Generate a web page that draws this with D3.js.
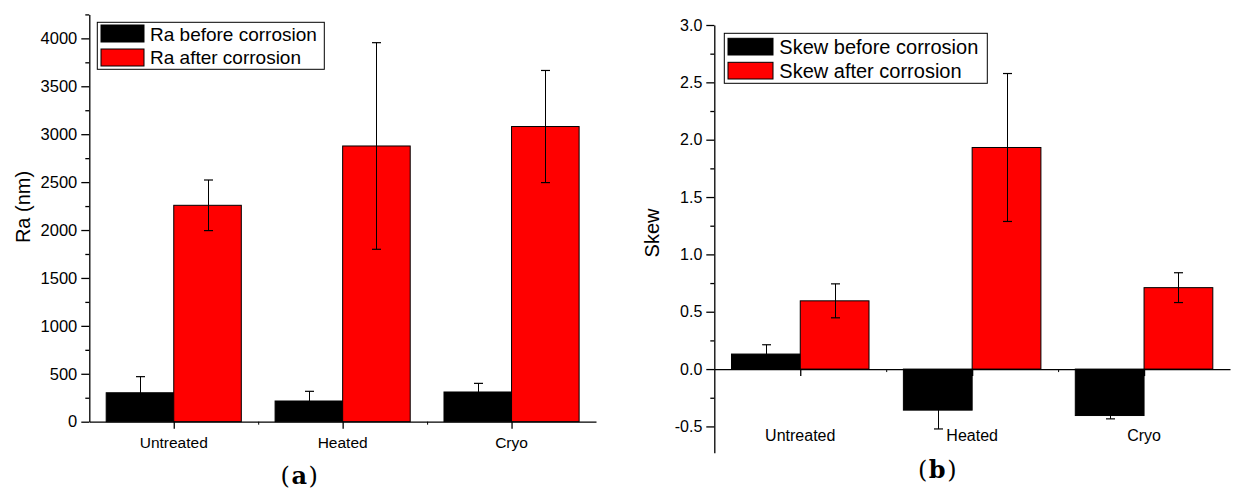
<!DOCTYPE html>
<html><head><meta charset="utf-8">
<script src="https://cdn.jsdelivr.net/npm/d3@7"></script>
<style>
html,body{margin:0;padding:0;background:#fff;}
svg{display:block;font-family:"Liberation Sans",Arial,sans-serif;}
</style></head>
<body>
<svg id="chart" width="1244" height="490"></svg>
<script>
const categories = ["Untreated", "Heated", "Cryo"];
const raBefore = [302, 216, 310];
const raBeforeErr = [168, 101, 90];
const raAfter = [2258, 2877, 3080];
const raAfterErr = [264, 1078, 585];
const skewBefore = [0.131, -0.358, -0.405];
const skewBeforeErr = [0.081, 0.164, 0.029];
const skewAfter = [0.595, 1.932, 0.71];
const skewAfterErr = [0.148, 0.645, 0.13];
const raTicks = [0, 500, 1000, 1500, 2000, 2500, 3000, 3500, 4000];
const raMinor = [250, 750, 1250, 1750, 2250, 2750, 3250, 3750, 4250];
const skewTicks = [-0.5, 0.0, 0.5, 1.0, 1.5, 2.0, 2.5, 3.0];
const skewMinor = [-0.25, 0.25, 0.75, 1.25, 1.75, 2.25, 2.75];
const legendA = ["Ra before corrosion", "Ra after corrosion"];
const legendB = ["Skew before corrosion", "Skew after corrosion"];

const svg = d3.select("#chart");

function panel(cfg) {
  const g = svg.append("g");
  const x = d3.scaleLinear().domain([0.5, 3.5]).range(cfg.xRange);
  const y = d3.scaleLinear().domain(cfg.yDomain).range(cfg.yRange);
  const bw = 0.4;
  const colors = ["#000000", "#ff0000"];
  const series = [cfg.before, cfg.after];
  const errs = [cfg.beforeErr, cfg.afterErr];

  // bars
  series.forEach((vals, s) => {
    g.selectAll(null).data(vals).enter().append("rect")
      .attr("x", (d, i) => s === 0 ? x(i + 1 - bw) : x(i + 1))
      .attr("width", x(1 + bw) - x(1))
      .attr("y", d => Math.min(y(d), y(0)))
      .attr("height", d => Math.abs(y(d) - y(0)))
      .attr("fill", colors[s])
      .attr("stroke", "#000").attr("stroke-width", 1);
  });
  // error bars
  series.forEach((vals, s) => {
    vals.forEach((v, i) => {
      const cx = Math.round(s === 0 ? x(i + 1 - bw / 2) : x(i + 1 + bw / 2)) + 0.5;
      const e = errs[s][i];
      const y1 = y(v - e), y2 = y(v + e);
      g.append("line").attr("x1", cx).attr("x2", cx).attr("y1", y1).attr("y2", y2)
        .attr("stroke", "#000").attr("stroke-width", 1);
      [y1, y2].forEach(yy => g.append("line")
        .attr("x1", cx - 4.5).attr("x2", cx + 4.5).attr("y1", yy).attr("y2", yy)
        .attr("stroke", "#000").attr("stroke-width", 1.2));
    });
  });

  // y axis
  const ya = g.append("g").attr("transform", `translate(${cfg.xRange[0]},0)`)
    .call(d3.axisLeft(y).tickValues(cfg.ticks).tickFormat(cfg.fmt).tickSize(8).tickSizeOuter(0).tickPadding(4));
  ya.selectAll("text").attr("font-size", cfg.tickFont).attr("fill", "#000").attr("font-family", "Liberation Sans, Arial, sans-serif");
  ya.selectAll("line,path").attr("stroke", "#000").attr("stroke-width", 1.3);
  const ym = g.append("g").attr("transform", `translate(${cfg.xRange[0]},0)`)
    .call(d3.axisLeft(y).tickValues(cfg.minor).tickFormat("").tickSize(4).tickSizeOuter(0));
  ym.select("path").remove();
  ym.selectAll("line").attr("stroke", "#000").attr("stroke-width", 1.3);

  // x axis at zero
  const xa = g.append("g").attr("transform", `translate(0,${y(0)})`)
    .call(d3.axisBottom(x).tickValues([1, 2, 3]).tickFormat("").tickSize(7).tickSizeOuter(0));
  xa.selectAll("line,path").attr("stroke", "#000").attr("stroke-width", 1.3);
  const xm = g.append("g").attr("transform", `translate(0,${y(0)})`)
    .call(d3.axisBottom(x).tickValues([1.5, 2.5]).tickFormat("").tickSize(3).tickSizeOuter(0));
  xm.select("path").remove();
  xm.selectAll("line").attr("stroke", "#000").attr("stroke-width", 1);

  // category labels
  g.selectAll(null).data(categories).enter().append("text")
    .attr("x", (d, i) => x(i + 1)).attr("y", cfg.catY)
    .attr("text-anchor", "middle").attr("font-size", cfg.catFont).text(d => d);

  // axis title
  g.append("text").attr("transform", `translate(${cfg.titlePos[0]},${cfg.titlePos[1]}) rotate(-90)`)
    .attr("text-anchor", "middle").attr("font-size", cfg.titleFont).text(cfg.title);

  // legend
  const L = cfg.legend;
  g.append("rect").attr("x", L.x).attr("y", L.y).attr("width", L.w).attr("height", L.h)
    .attr("fill", "#fff").attr("stroke", "#000").attr("stroke-width", 1);
  cfg.legendText.forEach((t, k) => {
    g.append("rect").attr("x", L.sx).attr("y", L.sy[k]).attr("width", L.sw).attr("height", L.sh)
      .attr("fill", colors[k]).attr("stroke", "#000").attr("stroke-width", 1);
    g.append("text").attr("x", L.tx).attr("y", L.ty[k]).attr("font-size", L.font).text(t);
  });

  // panel label
  const pl = g.append("text").attr("x", cfg.panel[0]).attr("y", cfg.panel[1])
    .attr("text-anchor", "middle").attr("font-family", "DejaVu Serif, serif")
    .attr("font-size", 24).attr("letter-spacing", 1.5);
  pl.append("tspan").text("(");
  pl.append("tspan").attr("font-weight", "bold").text(cfg.panelLetter);
  pl.append("tspan").text(")");
}

const hyphenFmt = d => d3.format(".1f")(d).replace("\u2212", "-");

panel({
  xRange: [89.3, 596], yDomain: [0, 4250], yRange: [421.7, 14.4],
  before: raBefore, after: raAfter, beforeErr: raBeforeErr, afterErr: raAfterErr,
  ticks: raTicks, minor: raMinor, fmt: d3.format("d"), tickFont: 16.5,
  catY: 448, catFont: 15.5,
  title: "Ra (nm)", titlePos: [30, 207], titleFont: 20,
  legend: {x: 97.3, y: 22.3, w: 227, h: 47, sx: 101, sy: [25, 49], sw: 43, sh: 17, tx: 150, ty: [40.5, 64], font: 19},
  legendText: legendA, panel: [300, 484], panelLetter: "a"
});
panel({
  xRange: [714.3, 1230], yDomain: [-0.73, 3.0], yRange: [452.8, 25.0],
  before: skewBefore, after: skewAfter, beforeErr: skewBeforeErr, afterErr: skewAfterErr,
  ticks: skewTicks, minor: skewMinor, fmt: hyphenFmt, tickFont: 16,
  catY: 441, catFont: 16,
  title: "Skew", titlePos: [659, 233], titleFont: 20,
  legend: {x: 724.3, y: 33.3, w: 263, h: 50, sx: 728, sy: [38.3, 62.3], sw: 45, sh: 16.7, tx: 779.3, ty: [53.7, 77.7], font: 20},
  legendText: legendB, panel: [938, 478], panelLetter: "b"
});
</script>
</body></html>
